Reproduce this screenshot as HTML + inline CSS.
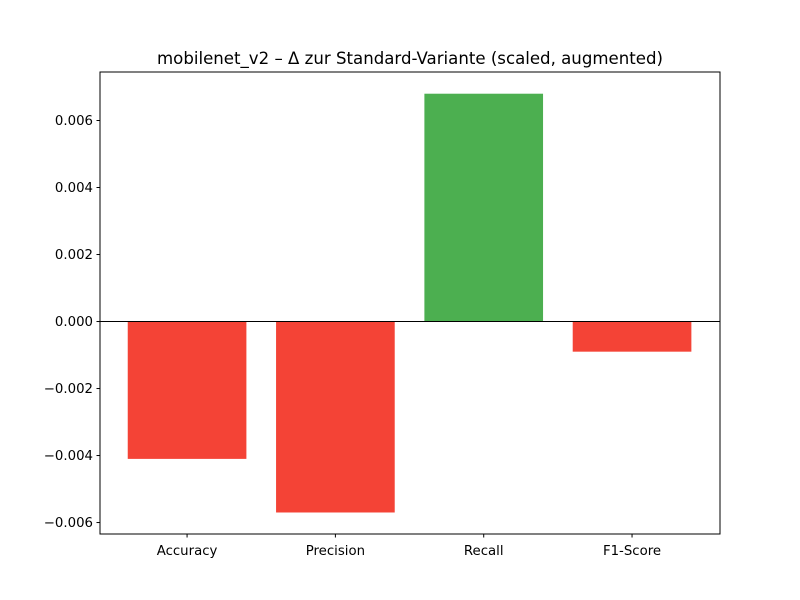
<!DOCTYPE html>
<html><head><meta charset="utf-8"><style>
body{margin:0;background:#fff;}
svg{display:block;font-family:"DejaVu Sans","Liberation Sans",sans-serif;}
</style></head><body>
<svg id="chart" width="800" height="600" viewBox="0 0 800 600">
<rect width="800" height="600" fill="#fff"/>
<text x="410" y="64" text-anchor="middle" font-size="16.6">mobilenet_v2 – Δ zur Standard-Variante (scaled, augmented)</text>
<g id="bars"></g>
<g id="yticks"></g>
<g id="xticks"></g>
<rect x="100" y="72" width="620" height="462" fill="none" stroke="#000" stroke-width="1"/>
</svg>
<script>
const categories = ["Accuracy","Precision","Recall","F1-Score"];
const values = [-0.0041, -0.0057, 0.0068, -0.0009];
const yTickValues = [-0.006,-0.004,-0.002,0,0.002,0.004,0.006];
const yTickLabels = ["−0.006","−0.004","−0.002","0.000","0.002","0.004","0.006"];

const L=100,R=720,T=72,B=534;
const yMin=-0.00636,yMax=0.00743;
const xMin=-0.587,xMax=3.593;
const ns="http://www.w3.org/2000/svg";
function y(v){return B-(v-yMin)/(yMax-yMin)*(B-T)+0.6;}
function x(i){return L+(i-xMin)/(xMax-xMin)*(R-L);}
function mk(tag,attrs,parent){const e=document.createElementNS(ns,tag);for(const k in attrs)e.setAttribute(k,attrs[k]);parent.appendChild(e);return e;}
const bars=document.getElementById('bars'),yt=document.getElementById('yticks'),xt=document.getElementById('xticks');
const bw=(x(0.8)-x(0));
values.forEach((v,i)=>{
  const r=mk('rect',{x:x(i)-bw/2,y:Math.min(y(v),y(0)),width:bw,height:Math.abs(y(v)-y(0)),fill:v>=0?'#4caf50':'#f44336'},bars);
  
  
});
const zl=mk('line',{x1:L,x2:R,y1:y(0),y2:y(0),stroke:'#000','stroke-width':1},bars);


yTickValues.forEach((v,i)=>{
  const t=mk('line',{x1:L-3.5,x2:L,y1:y(v),y2:y(v),stroke:'#000'},yt);
  
  
  const l=mk('text',{x:L-7,y:y(v)+4.6,'text-anchor':'end','font-size':13.3},yt);
  l.textContent=yTickLabels[i];
  
  
});
categories.forEach((c,i)=>{
  const t=mk('line',{x1:x(i),x2:x(i),y1:B,y2:B+3.5,stroke:'#000'},xt);
  
  
  const l=mk('text',{x:x(i),y:B+21,'text-anchor':'middle','font-size':13.3},xt);
  l.textContent=c;
  
  
});
</script>
</body></html>
